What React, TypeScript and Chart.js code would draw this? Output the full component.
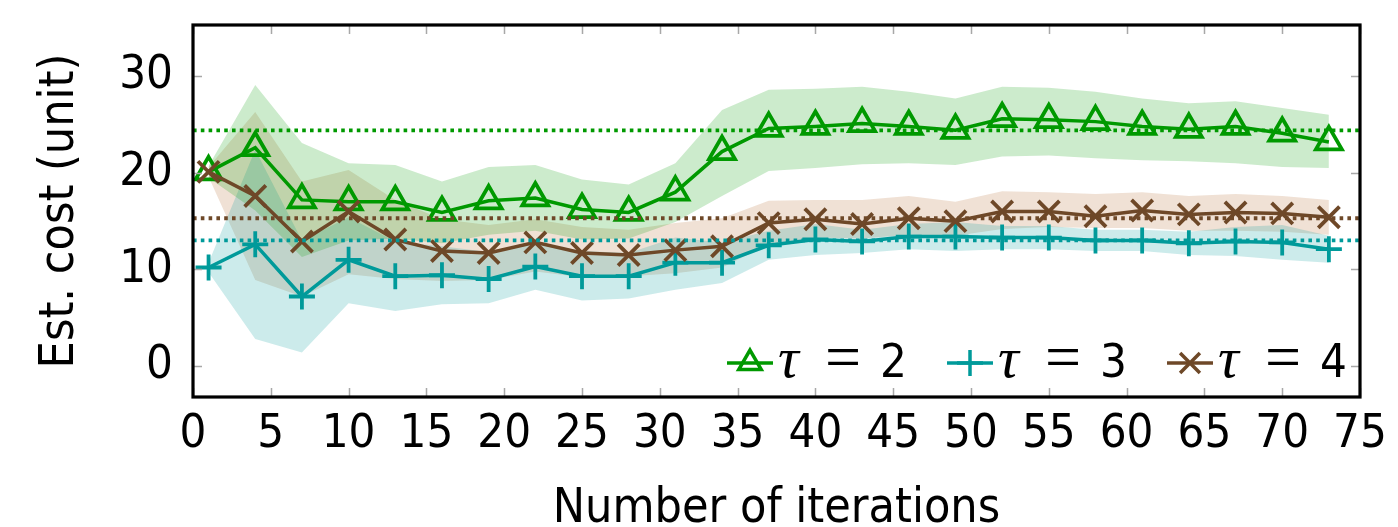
import React, { useEffect, useRef } from 'react';
import { Chart, registerables } from 'chart.js';
import { drawPoint } from 'chart.js/helpers';

Chart.register(...registerables);

// ---------------- data ----------------
const iterations = [1, 4, 7, 10, 13, 16, 19, 22, 25, 28, 31, 34, 37, 40, 43, 46, 49, 52, 55, 58, 61, 64, 67, 70, 73];

const tau2Mean = [20.1, 22.6, 17.2, 17.0, 17.0, 15.9, 17.1, 17.4, 16.2, 15.9, 18.0, 22.2, 24.6, 24.8, 25.1, 24.8, 24.4, 25.6, 25.5, 25.3, 24.8, 24.5, 24.8, 24.1, 23.2];
const tau2Upper = [20.7, 29.1, 23.1, 21.0, 20.8, 19.1, 20.6, 20.8, 19.3, 18.8, 21.0, 26.5, 28.6, 28.7, 28.9, 28.4, 27.7, 28.9, 28.8, 28.4, 27.7, 27.2, 27.4, 26.7, 26.0];
const tau2Lower = [19.5, 16.1, 11.3, 13.0, 13.2, 12.7, 13.6, 14.0, 13.1, 13.2, 14.9, 17.6, 20.2, 20.5, 20.9, 21.0, 20.8, 21.7, 21.8, 21.5, 21.3, 21.2, 21.0, 20.6, 20.5];

const tau3Mean = [10.2, 12.6, 7.2, 11.0, 9.3, 9.4, 9.0, 10.3, 9.3, 9.3, 10.7, 10.7, 12.5, 13.1, 12.9, 13.4, 13.4, 13.3, 13.3, 13.0, 13.0, 12.7, 12.9, 12.8, 12.1];
const tau3Upper = [10.7, 22.4, 13.0, 15.4, 12.9, 12.4, 11.8, 12.8, 11.9, 11.7, 13.3, 12.8, 14.0, 14.7, 14.1, 14.7, 14.9, 14.5, 14.5, 14.1, 14.1, 13.9, 14.4, 14.6, 13.5];
const tau3Lower = [9.7, 2.8, 1.4, 6.5, 5.7, 6.4, 6.5, 7.9, 6.8, 7.0, 7.9, 8.6, 11.0, 11.5, 11.7, 12.1, 11.9, 12.1, 12.1, 11.9, 11.9, 11.5, 11.4, 11.0, 10.7];

const tau4Mean = [20.1, 17.6, 12.9, 16.0, 13.1, 11.9, 11.7, 12.8, 11.7, 11.5, 12.0, 12.4, 14.8, 15.2, 14.7, 15.3, 15.0, 16.0, 16.0, 15.5, 16.1, 15.7, 15.9, 15.8, 15.4];
const tau4Upper = [20.6, 26.3, 19.1, 20.3, 17.2, 15.2, 14.6, 15.2, 14.4, 14.1, 14.8, 15.3, 17.1, 17.2, 17.2, 17.6, 17.0, 18.1, 18.0, 17.8, 18.0, 17.6, 17.8, 17.6, 17.2];
const tau4Lower = [19.6, 8.9, 7.2, 9.5, 9.0, 8.8, 8.9, 9.8, 9.2, 9.3, 9.6, 10.2, 12.6, 13.3, 13.2, 13.6, 13.5, 14.2, 14.4, 14.3, 14.3, 14.0, 14.0, 13.9, 13.6];

const tau2Ref = 24.4;
const tau3Ref = 13.0;
const tau4Ref = 15.3;

const xTickValues = [0, 5, 10, 15, 20, 25, 30, 35, 40, 45, 50, 55, 60, 65, 70, 75];
const yTickValues = [0, 10, 20, 30];
const legendValues = ['2', '3', '4'];

const xTitle = 'Number of iterations';
const yTitle = 'Est. cost (unit)';

// ---------------- styles ----------------
const GREEN = '#009900';
const TEAL = '#009a9a';
const BROWN = '#6e4828';
const GREEN_FILL = 'rgba(0,153,0,0.2)';
const TEAL_FILL = 'rgba(0,153,153,0.2)';
const BROWN_FILL = 'rgba(180,105,45,0.2)';
const SANS = '"DejaVu Sans Condensed", "Liberation Sans", sans-serif';

const pts = (ys: number[]) => iterations.map((x, i) => ({ x, y: ys[i] }));
const refLine = (y: number) => [{ x: xTickValues[0], y }, { x: xTickValues[xTickValues.length - 1], y }];

const band = (upper: number[], lower: number[], fill: string) => [
  {
    data: pts(upper),
    borderWidth: 0,
    borderColor: 'rgba(0,0,0,0)',
    backgroundColor: fill,
    pointRadius: 0,
    fill: '+1',
    order: 10,
  },
  {
    data: pts(lower),
    borderWidth: 0,
    borderColor: 'rgba(0,0,0,0)',
    pointRadius: 0,
    fill: false,
    order: 10,
  },
];

const mainLine = (ys: number[], color: string, style: string, radius: number, order: number) => ({
  data: pts(ys),
  borderColor: color,
  borderWidth: 3.5,
  pointStyle: style,
  pointRadius: radius,
  pointBorderWidth: 3.8,
  pointBorderColor: color,
  pointBackgroundColor: 'rgba(0,0,0,0)',
  fill: false,
  order,
});

const dotted = (y: number, color: string) => ({
  data: refLine(y),
  borderColor: color,
  borderWidth: 3.8,
  borderDash: [3.6, 4.2],
  pointRadius: 0,
  fill: false,
  order: 0,
});

const framePlugin = {
  id: 'frameTicks',
  afterDraw(chart: any) {
    const { ctx, chartArea } = chart;
    const { left, right, top, bottom } = chartArea;
    const xs = chart.scales.x;
    const ys = chart.scales.y;
    ctx.save();
    ctx.strokeStyle = '#a8a8a8';
    ctx.lineWidth = 1.5;
    ctx.beginPath();
    xTickValues.forEach((v) => {
      const px = Math.round(xs.getPixelForValue(v)) + 0.5;
      ctx.moveTo(px, top);
      ctx.lineTo(px, top + 9);
      ctx.moveTo(px, bottom);
      ctx.lineTo(px, bottom - 9);
    });
    yTickValues.forEach((v) => {
      const py = Math.round(ys.getPixelForValue(v)) + 0.5;
      ctx.moveTo(left, py);
      ctx.lineTo(left + 9, py);
      ctx.moveTo(right, py);
      ctx.lineTo(right - 9, py);
    });
    ctx.stroke();
    ctx.strokeStyle = '#000';
    ctx.lineWidth = 3.2;
    ctx.strokeRect(left, top, right - left, bottom - top);
    ctx.restore();
  },
};

const legendPlugin = {
  id: 'mathLegend',
  afterDraw(chart: any) {
    const { ctx, chartArea } = chart;
    const items = [
      { color: GREEN, style: 'triangle', radius: 13 },
      { color: TEAL, style: 'cross', radius: 13 },
      { color: BROWN, style: 'crossRot', radius: 14 },
    ];
    items.forEach((it, i) => {
      const tx = chartArea.right - 140 - (2 - i) * 220;
      const ly = chartArea.bottom - 34;
      const base = chartArea.bottom - 20;
      ctx.save();
      ctx.strokeStyle = it.color;
      ctx.fillStyle = 'rgba(0,0,0,0)';
      ctx.lineWidth = 3.5;
      ctx.beginPath();
      ctx.moveTo(tx - 53, ly);
      ctx.lineTo(tx - 7, ly);
      ctx.stroke();
      drawPoint(ctx, { pointStyle: it.style, radius: it.radius, borderWidth: 3.5, rotation: 0 } as any, tx - 30, ly);
      ctx.fillStyle = '#000';
      ctx.textAlign = 'left';
      ctx.textBaseline = 'alphabetic';
      ctx.font = 'italic 58px "Liberation Serif", "DejaVu Serif", serif';
      ctx.fillText('τ', tx - 2, base);
      ctx.font = '64px "Liberation Serif", serif';
      ctx.fillText('=', tx + 45, base + 1);
      ctx.font = '47px ' + SANS;
      ctx.fillText(legendValues[i], tx + 100, base);
      ctx.restore();
    });
  },
};

export default function App() {
  const canvasRef = useRef<HTMLCanvasElement | null>(null);

  useEffect(() => {
    if (!canvasRef.current) return;
    const chart = new Chart(canvasRef.current, {
      type: 'line',
      data: {
        datasets: [
          ...band(tau2Upper, tau2Lower, GREEN_FILL),
          ...band(tau3Upper, tau3Lower, TEAL_FILL),
          ...band(tau4Upper, tau4Lower, BROWN_FILL),
          mainLine(tau2Mean, GREEN, 'triangle', 15, 3),
          mainLine(tau3Mean, TEAL, 'cross', 13, 2),
          mainLine(tau4Mean, BROWN, 'crossRot', 15, 1),
          dotted(tau2Ref, GREEN),
          dotted(tau3Ref, TEAL),
          dotted(tau4Ref, BROWN),
        ] as any,
      },
      options: {
        animation: false,
        responsive: true,
        maintainAspectRatio: false,
        layout: { padding: { top: 25, right: 38, left: 0, bottom: 0 } },
        plugins: {
          legend: { display: false },
          tooltip: { enabled: false },
        },
        elements: { line: { tension: 0 } },
        scales: {
          x: {
            type: 'linear',
            min: 0,
            max: 75,
            grid: { display: false, drawTicks: false },
            border: { display: false },
            ticks: {
              stepSize: 5,
              padding: 10,
              color: '#000',
              font: { family: SANS, size: 47 },
              maxRotation: 0,
              autoSkip: false,
            },
            title: {
              display: true,
              text: xTitle,
              color: '#000',
              font: { family: SANS, size: 48, lineHeight: 1 },
              padding: { top: 0, bottom: -7 },
            },
            afterFit: (s: any) => {
              s.height = 130;
              s.paddingLeft = 0;
              s.paddingRight = 0;
            },
          },
          y: {
            type: 'linear',
            min: -3.2,
            max: 35.3,
            grid: { display: false, drawTicks: false },
            border: { display: false },
            ticks: {
              padding: 20,
              color: '#000',
              font: { family: SANS, size: 47 },
            },
            afterBuildTicks: (s: any) => {
              s.ticks = yTickValues.map((v) => ({ value: v }));
            },
            title: {
              display: true,
              text: yTitle,
              color: '#000',
              font: { family: SANS, size: 48, lineHeight: 1.2 },
              padding: { top: 32, bottom: 0 },
            },
            afterFit: (s: any) => {
              s.width = 193;
              s.paddingTop = 0;
              s.paddingBottom = 0;
            },
          },
        },
      } as any,
      plugins: [framePlugin, legendPlugin],
    });
    return () => chart.destroy();
  }, []);

  return (
    <div style={{ position: 'absolute', left: 0, top: 0, width: 1398, height: 527, background: '#fff' }}>
      <canvas ref={canvasRef} />
    </div>
  );
}
